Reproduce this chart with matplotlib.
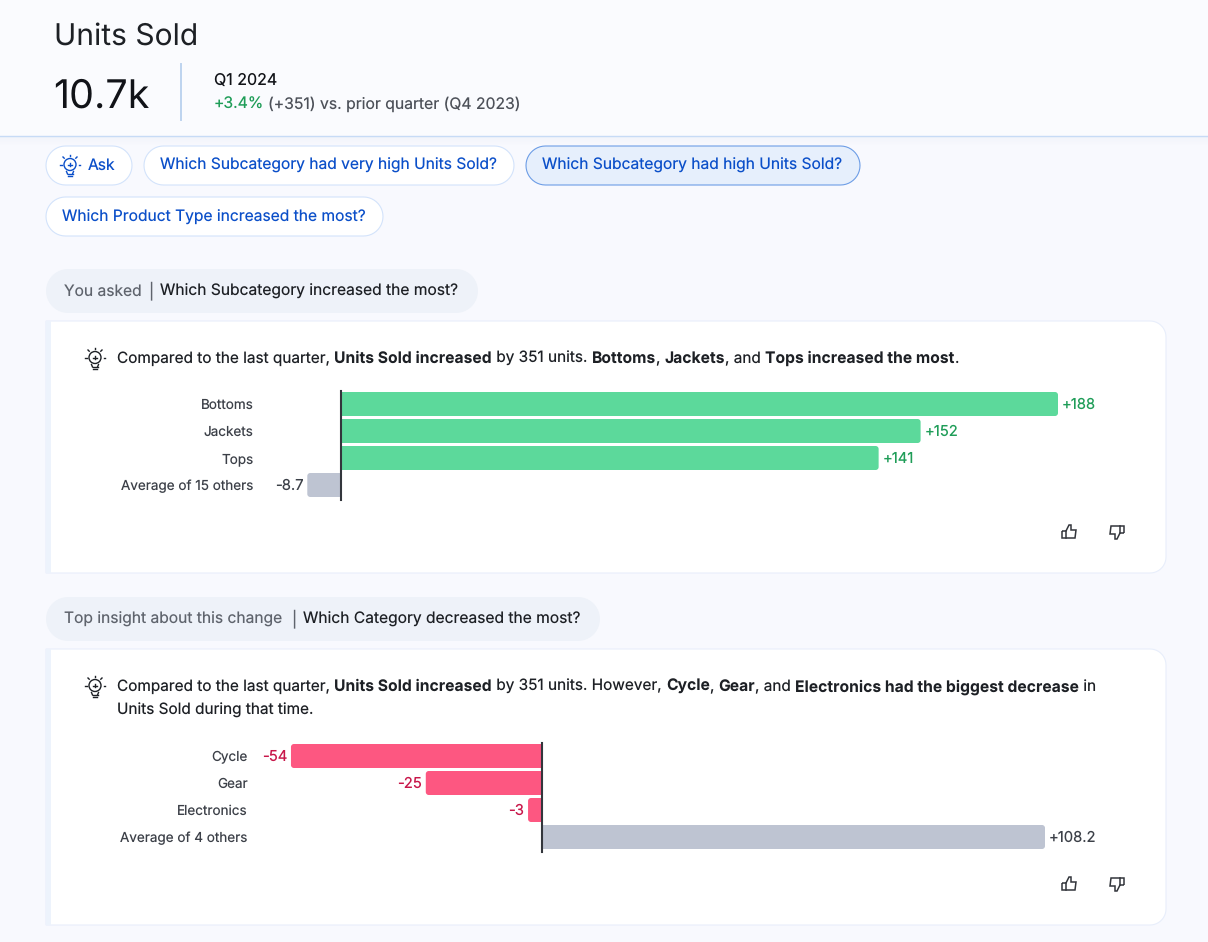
"""
Units Sold insight cards, two diverging bar charts
"""
import numpy as np
import matplotlib
matplotlib.use("Agg")
import matplotlib.pyplot as plt
from matplotlib.patches import Circle, Rectangle, PathPatch, Polygon
from matplotlib.path import Path

plt.rcParams['font.family'] = ['Inter', 'DejaVu Sans']
plt.rcParams['text.hinting'] = 'no_hinting'
plt.rcParams['text.hinting_factor'] = 1

# Data
subcategories = ["Bottoms", "Jackets", "Tops", "Average of 15 others"]
subcategory_change = [188, 152, 141, -8.7]
subcategory_labels = ["+188", "+152", "+141", "-8.7"]
categories = ["Cycle", "Gear", "Electronics", "Average of 4 others"]
category_change = [-54, -25, -3, 108.2]
category_labels = ["-54", "-25", "-3", "+108.2"]

# Configuration
W, H = 1208, 942
BG = "#f8f9fe"
BLUE = "#0b4fc9"
DARK = "#1d2025"
GREY = "#5f646d"
LABEL = "#3c4048"
GREEN_BAR = "#5cd99b"
GREEN_TXT = "#1f9d58"
RED_BAR = "#fd5781"
RED_TXT = "#c8174a"
NEUTRAL_BAR = "#bec4d2"
PX = 0.72  # points per pixel at dpi 100
BODY = 15.6
VALUE = 14.8
NAME = 13.5

fig = plt.figure(figsize=(W / 100, H / 100), dpi=100, facecolor=BG)
page = fig.add_axes([0, 0, 1, 1])
page.set_xlim(0, W)
page.set_ylim(H, 0)
page.axis("off")


def label(x, y, s, size=BODY, color=DARK, ha="left", weight="normal"):
    # y is the middle of the capitals, so all runs share one baseline
    return page.text(x, y + 0.5 + 0.36 * size, s, fontsize=size * PX, color=color, ha=ha,
                     va="baseline", fontweight=weight)


def rich_line(x, y, runs):
    """Draw (text, weight, color) runs one after the other"""
    renderer = fig.canvas.get_renderer()
    for s, weight, color in runs:
        size = 15.7 if weight == "bold" else 15.35
        t = label(x, y, s.replace(" ", "\u00a0"), size, color, weight=weight)
        x = page.transData.inverted().transform(t.get_window_extent(renderer))[1][0]


def round_rect(x0, y0, x1, y1, rx, ry=None, corners=(1, 1, 1, 1)):
    """Outline with true circular corners; corners are tl, tr, br, bl flags"""
    ry = rx if ry is None else ry
    t = np.linspace(0, np.pi / 2, 12)
    pts = []
    spec = [(x0, y0, -1, -1, np.pi), (x1, y0, 1, -1, 1.5 * np.pi),
            (x1, y1, 1, 1, 0.0), (x0, y1, -1, 1, 0.5 * np.pi)]
    for on, (cx, cy, sx, sy, start) in zip(corners, spec):
        if not on:
            pts.append((cx, cy))
            continue
        for a in t:
            pts.append((cx - sx * rx + rx * np.cos(start + a),
                        cy - sy * ry + ry * np.sin(start + a)))
    return np.array(pts)


def pill(x0, y0, x1, y1, face="white", edge="#d3e3fb", lw=0.8, z=2):
    r = (y1 - y0) / 2
    page.add_patch(Polygon(round_rect(x0, y0, x1, y1, r), closed=True,
                           fc=face, ec=edge, lw=lw, zorder=z))


def bulb(cx, cy, color):
    lw = 1.0
    page.add_patch(Circle((cx, cy - 0.5), 6, fc="none", ec=color, lw=lw, zorder=3))
    page.plot([cx - 1.6, cx + 1.6], [cy - 0.5, cy - 0.5], color=color, lw=lw, zorder=3)
    page.plot([cx, cx], [cy - 2.1, cy + 1.1], color=color, lw=lw, zorder=3)
    for x0, y0, x1, y1 in [(cx - 10, cy - 0.5, cx - 8.5, cy - 0.5), (cx + 8.5, cy - 0.5, cx + 10, cy - 0.5),
                           (cx - 7, cy - 8, cx - 5.8, cy - 6.8),
                           (cx + 7, cy - 8, cx + 5.8, cy - 6.8),
                           (cx - 3.5, cy + 6.5, cx - 2.5, cy + 9),
                           (cx + 3.5, cy + 6.5, cx + 2.5, cy + 9),
                           (cx - 2.5, cy + 9, cx + 2.5, cy + 9),
                           (cx - 1.8, cy + 11, cx + 1.8, cy + 11),
                           (cx, cy - 10.5, cx, cy - 9)]:
        page.plot([x0, x1], [y0, y1], color=color, lw=lw, zorder=3)


def thumb(cx, cy, down=False):
    s = -1 if down else 1
    pts = [(-7, -1), (-3, -1), (0, -7), (2, -7), (2, -2), (7, -2), (6, 6), (-7, 6), (-7, -1)]
    xy = [(cx + a * s, cy + b * s) for a, b in pts]
    codes = [Path.MOVETO] + [Path.LINETO] * (len(xy) - 1)
    page.add_patch(PathPatch(Path(xy, codes), fc="none", ec="#33363c", lw=1.1, zorder=3))
    page.plot([cx - 3 * s, cx - 3 * s], [cy - 1 * s, cy + 6 * s], color="#33363c", lw=1.1, zorder=3)


def card(y0, y1):
    page.add_patch(Polygon(round_rect(46, y0, 1166, y1, 16, corners=(0, 1, 1, 0)), closed=True,
                           fc="white", ec="#e8eefb", lw=0.8, zorder=1))
    page.add_patch(Rectangle((46, y0), 5, y1 - y0, fc="#edf3fc", ec="none", zorder=1.5))


def bar_chart(zero_px, px_per_unit, top, names, values, texts, pos_bar, neg_bar,
              pos_txt, neg_txt, name_right):
    """One card chart: axes span the value range, rows are 27 px tall"""
    lo, hi = min(values + [0]), max(values + [0])
    left = zero_px + lo * px_per_unit
    right = zero_px + hi * px_per_unit
    height = 27 * len(values)
    ax = fig.add_axes([left / W, 1 - (top + height) / H, (right - left) / W, height / H])
    ax.set_xlim(lo, hi)
    ax.set_ylim(len(values) - 0.5, -0.5)
    ax.axis("off")
    ax.patch.set_alpha(0)
    bar_h = 24 / 27
    rx, ry = 3 / px_per_unit, 3 / 27
    for i, v in enumerate(values):
        color = pos_bar[i] if v > 0 else neg_bar[i]
        # square end on the baseline, rounded end at the value
        flags = (0, 1, 1, 0) if v > 0 else (1, 0, 0, 1)
        ax.add_patch(Polygon(round_rect(min(0, v), i - bar_h / 2, max(0, v), i + bar_h / 2,
                                        rx, ry, corners=flags),
                             closed=True, fc=color, ec="none", clip_on=False))
        x = zero_px + v * px_per_unit
        y = top + 13 + 27 * i
        if v > 0:
            label(x + 4, y, texts[i], VALUE, pos_txt[i])
        else:
            label(x - 4, y, texts[i], VALUE, neg_txt[i], ha="right")
        label(name_right, y, names[i], NAME, LABEL, ha="right")
    ax.axvline(0, color="#33363c", lw=1.5, ymin=-0.012, ymax=1.0, clip_on=False, zorder=5)


# Header
page.add_patch(Rectangle((0, 0), W, 136, fc="#fafbfe", ec="none", zorder=0.5))
for i in range(8):
    page.add_patch(Rectangle((0, 137 + i), W, 1, fc="#e9edf5", alpha=0.35 * (1 - i / 8), ec="none", zorder=0.5))
page.plot([0, W], [136, 136], color="#c7dbf6", lw=1.0, zorder=1)
label(54, 33, "Units Sold", 30)
label(53, 93, "10.7k", 39.5, "#111318")
page.plot([181, 181], [64, 120], color="#bdd3ef", lw=1.4, zorder=1)
label(214, 79, "Q1 2024", 16, "#111318")
label(214, 103, "+3.4%", 15.75, GREEN_TXT)
label(268, 103, "(+351) vs. prior quarter (Q4 2023)", 15.75, "#4d5159")

# Question pills
pill(46, 146, 132, 185)
bulb(70, 165, BLUE)
label(88, 164, "Ask", BODY, BLUE)
pill(144, 146, 514, 185)
label(160, 164, "Which Subcategory had very high Units Sold?", BODY, BLUE)
pill(526, 146, 860, 185, face="#e6effc", edge="#6d9de6")
label(542, 164, "Which Subcategory had high Units Sold?", BODY, BLUE)
pill(46, 197, 383, 236)
label(62, 216, "Which Product Type increased the most?", BODY, BLUE)

# First card
pill(46, 269, 478, 313, face="#eef2f9", edge="none")
label(64, 290, "You asked", BODY, GREY)
label(148, 290, "|", BODY, GREY)
label(160, 290, "Which Subcategory increased the most?", BODY, DARK)
card(321, 573)
bulb(95, 358, DARK)
rich_line(117, 357, [("Compared to the last quarter, ", "normal", DARK),
                     ("Units Sold increased", "bold", DARK),
                     (" by 351 units. ", "normal", DARK),
                     ("Bottoms", "bold", DARK), (", ", "normal", DARK),
                     ("Jackets", "bold", DARK), (", and ", "normal", DARK),
                     ("Tops increased the most", "bold", DARK), (".", "normal", DARK)])
bar_chart(340.5, 717.5 / 188, 390.5, subcategories, subcategory_change, subcategory_labels,
          [GREEN_BAR] * 4, [NEUTRAL_BAR] * 4, [GREEN_TXT] * 4, [LABEL] * 4, 253.5)
thumb(1069, 532)
thumb(1117, 532, down=True)

# Second card
pill(46, 597, 600, 641, face="#eef2f9", edge="none")
label(64, 618, "Top insight about this change", BODY, GREY)
label(291, 618, "|", BODY, GREY)
label(303, 618, "Which Category decreased the most?", BODY, DARK)
card(649, 925)
bulb(95, 686, DARK)
rich_line(117, 685, [("Compared to the last quarter, ", "normal", DARK),
                     ("Units Sold increased", "bold", DARK),
                     (" by 351 units. However, ", "normal", DARK),
                     ("Cycle", "bold", DARK), (", ", "normal", DARK),
                     ("Gear", "bold", DARK), (", and ", "normal", DARK),
                     ("Electronics had the biggest decrease", "bold", DARK),
                     (" in", "normal", DARK)])
label(117, 709, "Units Sold during that time.", 15.35, DARK)
bar_chart(542, 503 / 108.2, 742.5, categories, category_change, category_labels,
          [NEUTRAL_BAR] * 4, [RED_BAR] * 4, [LABEL] * 4, [RED_TXT] * 4, 247.5)
thumb(1069, 884)
thumb(1117, 884, down=True)

plt.savefig("out.png", dpi=100, facecolor=BG)
